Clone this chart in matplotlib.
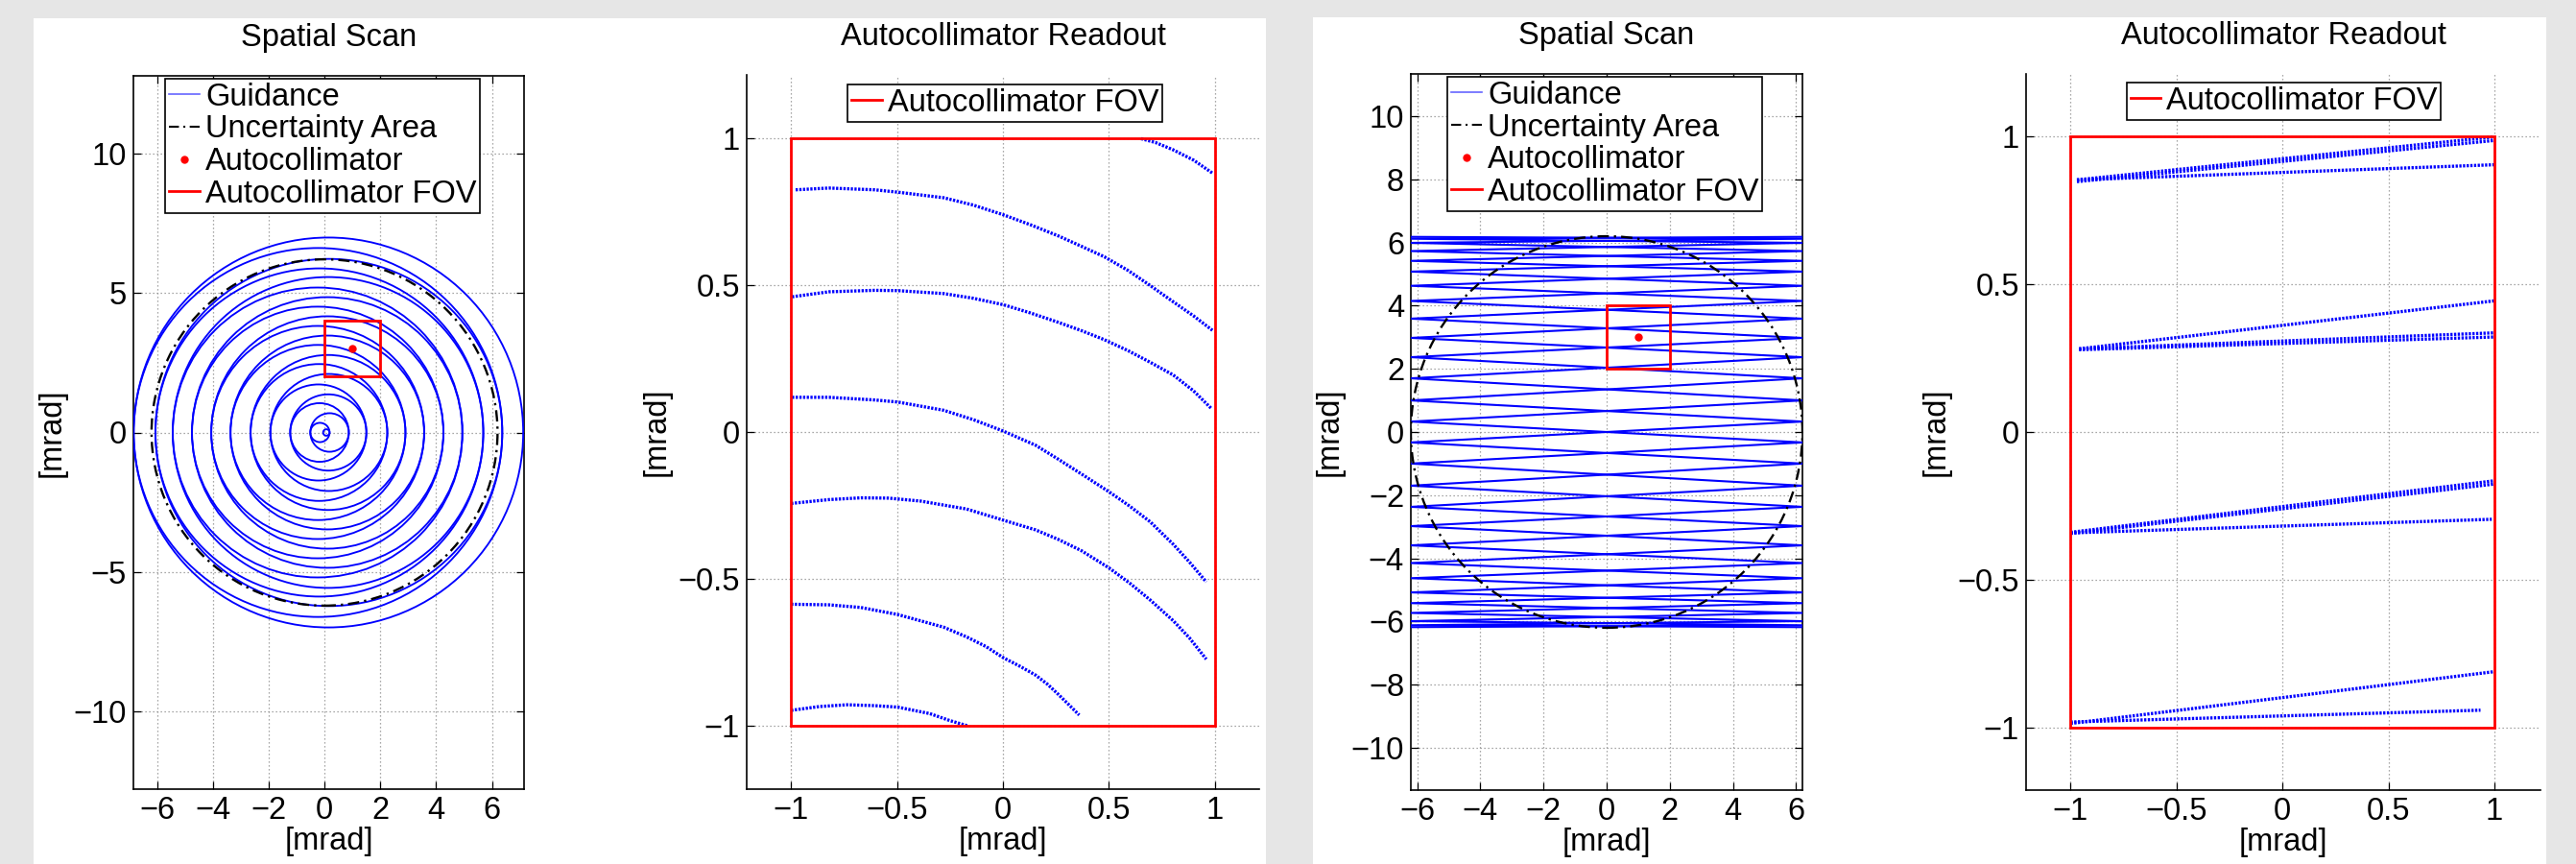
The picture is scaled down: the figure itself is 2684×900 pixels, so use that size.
import numpy as np
import matplotlib
matplotlib.use('Agg')
import matplotlib.pyplot as plt
from matplotlib.patches import Circle, Rectangle
from matplotlib.lines import Line2D

plt.rcParams['font.family'] = ['Liberation Sans', 'DejaVu Sans']
plt.rcParams['axes.unicode_minus'] = True
FS = 23.5

# ---------------- data ----------------
# Spatial scan (spiral): crossings of the guidance path with the y=0 line
SPIRAL_RIGHT = [0.18, 0.87, 1.50, 2.25, 2.90, 3.57, 4.26, 4.94, 5.69, 6.37, 7.12]
SPIRAL_LEFT = [0.05, 0.51, 1.23, 1.94, 2.65, 3.37, 4.06, 4.75, 5.44, 6.06, 6.84]
UNCERTAINTY_RADIUS = 6.2
AUTOCOLLIMATOR = [1.0, 3.0]
FOV_HALF = 1.0

# Spatial scan (raster): y of the turning points at the x-edges
RASTER_TIPS = [6.18, 6.12, 5.99, 5.73, 5.42, 5.08, 4.63, 4.15, 3.59, 2.98, 2.37,
               1.70, 1.00, 0.33, -0.33, -1.00, -1.70, -2.37, -2.98, -3.59, -4.15,
               -4.63, -5.08, -5.42, -5.73, -5.99, -6.12, -6.18]
RASTER_AMPLITUDE = 6.2

# Autocollimator readout for the spiral scan: arcs (x, y)
ARC_A = [(0.652, 0.998), (0.72, 0.985), (0.804, 0.960), (0.90, 0.925), (0.989, 0.881)]
ARC_B = [(-0.979, 0.824), (-0.822, 0.830), (-0.606, 0.824), (-0.497, 0.816), (-0.280, 0.797),
         (-0.14, 0.772), (0.002, 0.739), (0.13, 0.705), (0.262, 0.667), (0.37, 0.632),
         (0.479, 0.596), (0.59, 0.550), (0.696, 0.498), (0.804, 0.443), (0.90, 0.395),
         (0.989, 0.346)]
ARC_C = [(-0.996, 0.460), (-0.822, 0.477), (-0.606, 0.482), (-0.497, 0.481), (-0.280, 0.471),
         (-0.14, 0.455), (0.002, 0.433), (0.13, 0.405), (0.262, 0.373), (0.37, 0.345),
         (0.479, 0.314), (0.59, 0.277), (0.696, 0.237), (0.804, 0.194), (0.90, 0.140),
         (0.984, 0.080)]
ARC_D = [(-0.996, 0.118), (-0.822, 0.118), (-0.606, 0.109), (-0.497, 0.102), (-0.280, 0.074),
         (-0.14, 0.042), (0.002, 0.003), (0.154, -0.045), (0.26, -0.092), (0.371, -0.143),
         (0.500, -0.203), (0.60, -0.253), (0.696, -0.306), (0.804, -0.382), (0.88, -0.442),
         (0.960, -0.510)]
ARC_E = [(-1.0, -0.243), (-0.822, -0.230), (-0.671, -0.224), (-0.540, -0.225), (-0.389, -0.235),
         (-0.172, -0.262), (0.002, -0.300), (0.154, -0.333), (0.26, -0.365), (0.371, -0.404),
         (0.500, -0.462), (0.60, -0.515), (0.696, -0.572), (0.804, -0.642), (0.88, -0.700),
         (0.960, -0.773)]
ARC_F = [(-1.0, -0.586), (-0.822, -0.588), (-0.671, -0.597), (-0.497, -0.621), (-0.280, -0.664),
         (-0.172, -0.697), (-0.08, -0.730), (0.002, -0.768), (0.08, -0.797), (0.154, -0.827),
         (0.21, -0.858), (0.262, -0.893), (0.31, -0.927), (0.360, -0.963)]
ARC_G = [(-1.0, -0.947), (-0.866, -0.934), (-0.736, -0.928), (-0.606, -0.931), (-0.497, -0.936),
         (-0.346, -0.958), (-0.25, -0.982), (-0.165, -1.0)]
READOUT1_ARCS = [ARC_A, ARC_B, ARC_C, ARC_D, ARC_E, ARC_F, ARC_G]

# Autocollimator readout for the raster scan: line segments
R2_X0 = [-0.97, -0.97, -0.97, -0.96, -0.96, -0.96, -1.0, -1.0, -1.0, -1.0, -1.0]
R2_Y0 = [0.852, 0.846, 0.852, 0.281, 0.281, 0.278, -0.339, -0.343, -0.341, -0.985, -0.980]
R2_X1 = [0.997, 0.997, 0.996, 0.997, 0.997, 0.997, 0.997, 0.997, 0.987, 0.997, 0.934]
R2_Y1 = [0.997, 0.985, 0.903, 0.443, 0.335, 0.321, -0.165, -0.176, -0.295, -0.810, -0.940]

READ_TICKS = [-1, -0.5, 0, 0.5, 1]
READ_LABELS = ['\u22121', '\u22120.5', '0', '0.5', '1']

# ---------------- figure ----------------
W, H = 2684, 900
fig = plt.figure(figsize=(W / 100, H / 100), dpi=100, facecolor='#e6e6e6')

def fig_rect(x0, x1, y0, y1):
    return [x0 / W, 1 - y1 / H, (x1 - x0) / W, (y1 - y0) / H]

# white panels
for (x0, x1, yt) in [(35, 1319, 19), (1368, 2653, 18)]:
    fig.patches.append(Rectangle((x0 / W, 0), (x1 - x0) / W, 1 - yt / H,
                                 transform=fig.transFigure, facecolor='white',
                                 edgecolor='none', zorder=-10))

BLUE = '#0000ff'
GRID_KW = dict(color='0.55', linestyle=(0, (1, 2.2)), linewidth=0.9)
DASHDOT = (0, (5, 2.2, 1, 2.2))
DOTS = (0, (0.7, 0.45))


def style_axes(ax, box=True):
    ax.set_axisbelow(True)
    ax.grid(True, **GRID_KW)
    ax.tick_params(direction='in', length=6, width=0.9, labelsize=FS, pad=5,
                   top=box, right=box, colors='black')
    for s in ax.spines.values():
        s.set_linewidth(1.2)
    if not box:
        ax.spines['top'].set_visible(False)
        ax.spines['right'].set_visible(False)


def make_legend(ax, handles, labels, cx, cy):
    leg = ax.legend(handles, labels, loc='upper center', bbox_to_anchor=(cx, cy),
                    fontsize=FS, frameon=True, fancybox=False, framealpha=1,
                    edgecolor='black', borderpad=0.12, labelspacing=0.08,
                    handlelength=0.97, handletextpad=0.18, borderaxespad=0)
    leg.get_frame().set_linewidth(1.2)
    return leg


def scan_legend(ax, cx, cy):
    h = [Line2D([], [], color=BLUE, lw=1.2, alpha=0.6),
         Line2D([], [], color='black', lw=1.5, linestyle=DASHDOT),
         Line2D([], [], color='red', lw=0, marker='o', markersize=5),
         Line2D([], [], color='red', lw=2.0)]
    make_legend(ax, h, ['Guidance', 'Uncertainty Area', 'Autocollimator',
                        'Autocollimator FOV'], cx, cy)


def add_fov(ax):
    ax.add_patch(Rectangle((AUTOCOLLIMATOR[0] - FOV_HALF, AUTOCOLLIMATOR[1] - FOV_HALF),
                           2 * FOV_HALF, 2 * FOV_HALF, fill=False, edgecolor='red',
                           linewidth=2.0, zorder=5))
    ax.plot([AUTOCOLLIMATOR[0]], [AUTOCOLLIMATOR[1]], 'o', color='red',
            markersize=5, zorder=6)


def add_uncertainty(ax):
    ax.add_patch(Circle((0, 0), UNCERTAINTY_RADIUS, fill=False, edgecolor='black',
                        linewidth=1.7, linestyle=DASHDOT, zorder=4))

# ---- axes 1: spiral spatial scan ----
ax1 = fig.add_axes(fig_rect(139, 546, 79, 822))
crossings = sorted(SPIRAL_RIGHT + [-v for v in SPIRAL_LEFT], key=abs)
for a, b in zip(crossings[:-1], crossings[1:]):
    ax1.add_patch(Circle(((a + b) / 2, 0), abs(a - b) / 2, fill=False,
                         edgecolor=BLUE, linewidth=1.35, zorder=3))
add_uncertainty(ax1)
add_fov(ax1)
ax1.set_xlim(-6.85, 7.15)
ax1.set_ylim(-12.77, 12.77)
ax1.set_xticks([-6, -4, -2, 0, 2, 4, 6])
ax1.set_yticks([-10, -5, 0, 5, 10])
style_axes(ax1, box=True)
ax1.set_title('Spatial Scan', fontsize=FS, pad=22)
ax1.set_xlabel('[mrad]', fontsize=FS, labelpad=1)
ax1.set_ylabel('[mrad]', fontsize=FS, labelpad=5)
scan_legend(ax1, 0.485, 0.996)

# ---- axes 2: readout of spiral scan ----
ax2 = fig.add_axes(fig_rect(778, 1312, 78, 822))
for arc in READOUT1_ARCS:
    xs = [p[0] for p in arc]
    ys = [p[1] for p in arc]
    ax2.plot(xs, ys, color=BLUE, lw=2.4, linestyle=DOTS, zorder=3)
ax2.add_patch(Rectangle((-FOV_HALF, -FOV_HALF), 2 * FOV_HALF, 2 * FOV_HALF, fill=False,
                        edgecolor='red', linewidth=2.0, zorder=4))
ax2.set_xlim(-1.21, 1.21)
ax2.set_ylim(-1.215, 1.215)
ax2.set_xticks(READ_TICKS)
ax2.set_xticklabels(READ_LABELS)
ax2.set_yticks(READ_TICKS)
ax2.set_yticklabels(READ_LABELS)
style_axes(ax2, box=False)
ax2.set_title('Autocollimator Readout', fontsize=FS, pad=22)
ax2.set_xlabel('[mrad]', fontsize=FS, labelpad=1)
ax2.set_ylabel('[mrad]', fontsize=FS, labelpad=5)
make_legend(ax2, [Line2D([], [], color='red', lw=2.0)], ['Autocollimator FOV'], 0.504, 0.9866)

# ---- axes 3: raster spatial scan ----
ax3 = fig.add_axes(fig_rect(1470, 1878, 77, 823))
tips = np.array(RASTER_TIPS)
sides = np.array([-RASTER_AMPLITUDE, RASTER_AMPLITUDE])
x_down = sides[np.arange(len(tips)) % 2]
x_up = sides[(np.arange(len(tips)) + 1) % 2]
ax3.plot(x_down, tips, color=BLUE, lw=1.5, zorder=3)
ax3.plot(x_up, tips, color=BLUE, lw=1.5, zorder=3)
add_uncertainty(ax3)
add_fov(ax3)
ax3.set_xlim(-6.2, 6.2)
ax3.set_ylim(-11.34, 11.34)
ax3.set_xticks([-6, -4, -2, 0, 2, 4, 6])
ax3.set_yticks([-10, -8, -6, -4, -2, 0, 2, 4, 6, 8, 10])
style_axes(ax3, box=True)
ax3.set_title('Spatial Scan', fontsize=FS, pad=22)
ax3.set_xlabel('[mrad]', fontsize=FS, labelpad=1)
ax3.set_ylabel('[mrad]', fontsize=FS, labelpad=5)
scan_legend(ax3, 0.496, 0.996)

# ---- axes 4: readout of raster scan ----
ax4 = fig.add_axes(fig_rect(2111, 2647, 77, 823))
for x0, y0, x1, y1 in zip(R2_X0, R2_Y0, R2_X1, R2_Y1):
    ax4.plot([x0, x1], [y0, y1], color=BLUE, lw=2.4, linestyle=DOTS, zorder=3)
ax4.add_patch(Rectangle((-FOV_HALF, -FOV_HALF), 2 * FOV_HALF, 2 * FOV_HALF, fill=False,
                        edgecolor='red', linewidth=2.0, zorder=4))
ax4.set_xlim(-1.21, 1.217)
ax4.set_ylim(-1.21, 1.21)
ax4.set_xticks(READ_TICKS)
ax4.set_xticklabels(READ_LABELS)
ax4.set_yticks(READ_TICKS)
ax4.set_yticklabels(READ_LABELS)
style_axes(ax4, box=False)
ax4.set_title('Autocollimator Readout', fontsize=FS, pad=22)
ax4.set_xlabel('[mrad]', fontsize=FS, labelpad=1)
ax4.set_ylabel('[mrad]', fontsize=FS, labelpad=5)
make_legend(ax4, [Line2D([], [], color='red', lw=2.0)], ['Autocollimator FOV'], 0.501, 0.988)

fig.savefig('out.png', dpi=100, facecolor=fig.get_facecolor())
